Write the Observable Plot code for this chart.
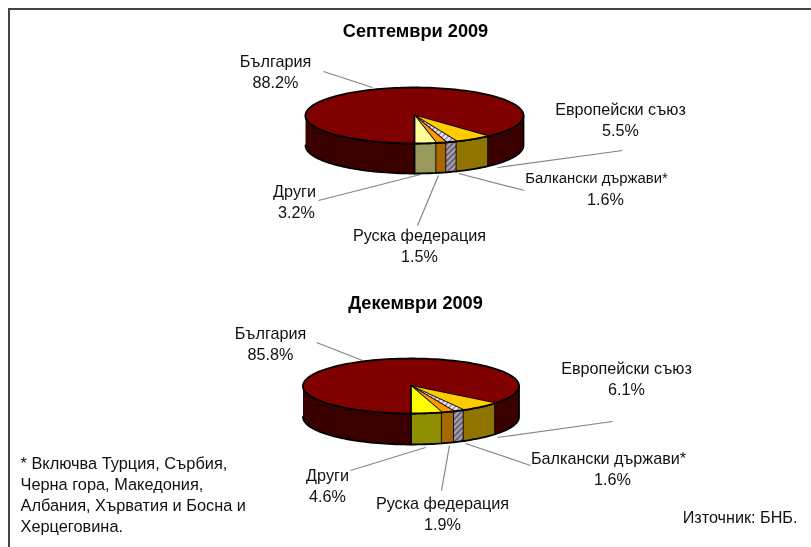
<!DOCTYPE html>
<html><head><meta charset="utf-8">
<script src="https://cdn.jsdelivr.net/npm/d3@7"></script>
<script src="https://cdn.jsdelivr.net/npm/@observablehq/plot@0.6"></script>
<style>html,body{margin:0;padding:0;background:#fff;overflow:hidden}svg{display:block;filter:blur(.35px)}</style>
</head><body><div id="chart"></div>
<script>
const categories = ["Други", "Руска федерация", "Балкански държави*", "Европейски съюз", "България"];
const septemberValues = [3.2, 1.5, 1.6, 5.5, 88.2];
const decemberValues = [4.6, 1.9, 1.6, 6.1, 85.8];
const septemberTop = ["#ffff99", "#ff9900", "url(#hatchTop)", "#ffcc00", "#800000"];
const septemberSide = ["#99995c", "#a86800", "url(#hatchSide)", "#8f7400", "#3a0000"];
const decemberTop = ["#ffff00", "#ff9900", "url(#hatchTop)", "#ffcc00", "#800000"];
const decemberSide = ["#8f8f00", "#a86800", "url(#hatchSide)", "#8f7400", "#3a0000"];
const titles = ["Септември 2009", "Декември 2009"];
const footnoteLines = ["* Включва Турция, Сърбия,", "Черна гора, Македония,", "Албания, Хърватия и Босна и", "Херцеговина."];
const source = "Източник: БНБ.";

const pies = [
  {values: septemberValues, top: septemberTop, side: septemberSide, cx: 414, cy: 115, rx: 109, ry: 28, depth: 30},
  {values: decemberValues, top: decemberTop, side: decemberSide, cx: 410.5, cy: 385.5, rx: 108, ry: 27.5, depth: 31}
];

// label anchor positions, one list per pie, in category order
const labelSpots = [
  [[294,191,296,212],[419,235,419,256],[596,178,605,199],[620,109,620,130],[275,61,275,82]],
  [[327,475,327,496],[442,503,442,524],[608,458,612,479],[626,368,626,389],[270,333,270,354]]
];
const labelSizes = [[16.2,16.2,14.9,16.2,16.2],[16.2,16.2,16.2,16.2,16.2]];
const leaderSpots = [
  [[318,200,420,174],[417,225,438,175],[524,190,458,173],[622,150,497,167],[323,71,372,87]],
  [[350,470,425,447],[441,490,449,445],[530,465,465,443],[612,421,497,437],[316,342,362,360]]
];

const faces = [];
function arc(p, a0, a1, dy) {
  const n = Math.max(2, Math.ceil(Math.abs(a1 - a0) / 2));
  return d3.range(n + 1).map(i => {
    const a = (a0 + (a1 - a0) * i / n) * Math.PI / 180;
    return [p.cx + p.rx * Math.sin(a), p.cy + p.ry * Math.cos(a) + dy];
  });
}
function addFace(id, pts, fill) {
  pts.forEach(([x, y]) => faces.push({id, x, y, fill}));
}
pies.forEach((p, pi) => {
  let start = 0;
  const spans = p.values.map(v => { const s = [start, start + v * 3.6]; start += v * 3.6; return s; });
  spans.forEach(([a0, a1], i) => {
    const parts = [];
    if (a0 < 90) parts.push([a0, Math.min(a1, 90)]);
    if (a1 > 270) parts.push([Math.max(a0, 270), a1]);
    parts.forEach(([b0, b1], k) => {
      addFace(`s${pi}-${i}-${k}`, [...arc(p, b0, b1, 0), ...arc(p, b1, b0, p.depth)], p.side[i]);
    });
  });
  spans.slice().reverse().forEach(([a0, a1], r) => {
    const i = spans.length - 1 - r;
    addFace(`t${pi}-${i}`, [[p.cx, p.cy], ...arc(p, a0, a1, 0)], p.top[i]);
  });
});

const labels = [];
const leaders = [];
pies.forEach((p, pi) => categories.forEach((c, i) => {
  const [x1, y1, x2, y2] = labelSpots[pi][i];
  const size = labelSizes[pi][i];
  labels.push({x: x1, y: y1, t: c, size}, {x: x2, y: y2, t: p.values[i].toFixed(1) + "%", size: 16.2});
  const [a, b, d, e] = leaderSpots[pi][i];
  leaders.push({x1: a, y1: b, x2: d, y2: e});
}));
const titleRows = [{x: 415, y: 31, t: titles[0]}, {x: 415, y: 303, t: titles[1]}];
const noteRows = footnoteLines.map((t, i) => ({x: 20, y: [463, 484, 505, 526][i], t}));
const frame = [{x1: 9, y1: 9, x2: 830, y2: 570}];

const textMarks = labels.map(d => Plot.text([d], {x: "x", y: "y", text: "t", fontSize: d.size, fill: "#111"}));

const plot = Plot.plot({
  width: 811, height: 547,
  marginTop: 0, marginRight: 0, marginBottom: 0, marginLeft: 0,
  style: {background: "#fff", fontFamily: "'Liberation Sans', Arial, sans-serif"},
  x: {domain: [0, 811], range: [0, 811], axis: null},
  y: {domain: [0, 547], range: [0, 547], axis: null},
  color: {type: "identity"},
  marks: [
    Plot.rect(frame, {x1: "x1", y1: "y1", x2: "x2", y2: "y2", fill: "#fff", stroke: "#444", strokeWidth: 2}),
    Plot.link(leaders, {x1: "x1", y1: "y1", x2: "x2", y2: "y2", stroke: "#858585", strokeWidth: 1.2}),
    Plot.line(faces, {x: "x", y: "y", z: "id", fill: "fill", stroke: "#000", strokeWidth: 1.8, strokeLinejoin: "round"}),
    Plot.text(titleRows, {x: "x", y: "y", text: "t", fontSize: 18.2, fontWeight: "bold", fill: "#000"}),
    ...textMarks,
    Plot.text(noteRows, {x: "x", y: "y", text: "t", fontSize: 16.35, textAnchor: "start", fill: "#111"}),
    Plot.text([source], {x: 797, y: 517, text: d => d, fontSize: 16.2, textAnchor: "end", fill: "#111"})
  ]
});
const ns = "http://www.w3.org/2000/svg";
const defs = document.createElementNS(ns, "defs");
defs.innerHTML = `
<pattern id="hatchTop" width="4" height="4" patternUnits="userSpaceOnUse" patternTransform="rotate(45)"><rect width="4" height="4" fill="#efe8f4"/><rect width="1.4" height="4" fill="#8a7fa0"/></pattern>
<pattern id="hatchSide" width="4" height="4" patternUnits="userSpaceOnUse" patternTransform="rotate(45)"><rect width="4" height="4" fill="#a8a0b4"/><rect width="1.6" height="4" fill="#5c5468"/></pattern>`;
plot.insertBefore(defs, plot.firstChild);
document.getElementById("chart").appendChild(plot);
</script></body></html>
